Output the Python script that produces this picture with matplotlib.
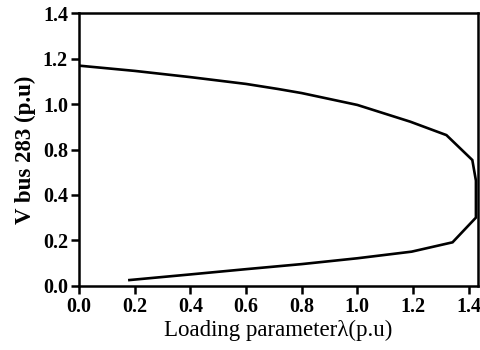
import numpy as np
import matplotlib
matplotlib.use('Agg')
from matplotlib import pyplot as plt

# PV curve (y in axis units 0..1.4)
lam = [0.0, 0.2, 0.4, 0.6, 0.715, 0.8, 1.0, 1.19, 1.32, 1.413, 1.426, 1.426,
       1.342, 1.195, 1.0, 0.8, 0.6, 0.4, 0.181]
v = [1.131, 1.104, 1.072, 1.037, 1.011, 0.99, 0.929, 0.843, 0.774, 0.646, 0.54, 0.35,
     0.223, 0.175, 0.141, 0.111, 0.085, 0.058, 0.029]

xticks = [0.0, 0.2, 0.4, 0.6, 0.8, 1.0, 1.2, 1.4]
ytick_labels = ['0.0', '0.2', '0.4', '0.8', '1.0', '1.2', '1.4']

plt.rcParams['font.family'] = ['Liberation Serif', 'DejaVu Serif']

fig = plt.figure(figsize=(4.8, 3.5), dpi=100)
ax = fig.add_axes([0.1646, 0.1837, 0.8304, 0.7783])
ax.plot(lam, v, color='black', lw=1.9, solid_joinstyle='miter')

ax.set_xlim(0, 1.432)
ax.set_ylim(0, 1.4)
ax.set_xticks(xticks)
ax.set_xticklabels(['%.1f' % t for t in xticks], fontweight='bold', fontsize=14.5)
ax.set_yticks(np.linspace(0, 1.4, len(ytick_labels)))
ax.set_yticklabels(ytick_labels, fontweight='bold', fontsize=14.5)
ax.tick_params(direction='out', length=5.5, width=1.8, pad=2.5)

for s in ax.spines.values():
    s.set_linewidth(1.8)

ax.set_xlabel('Loading parameter\u03bb(p.u)', fontsize=16.5, labelpad=2)
ax.set_ylabel('V bus 283 (p.u)', fontsize=16.5, fontweight='bold', labelpad=5)

fig.savefig('out.png', dpi=100)
